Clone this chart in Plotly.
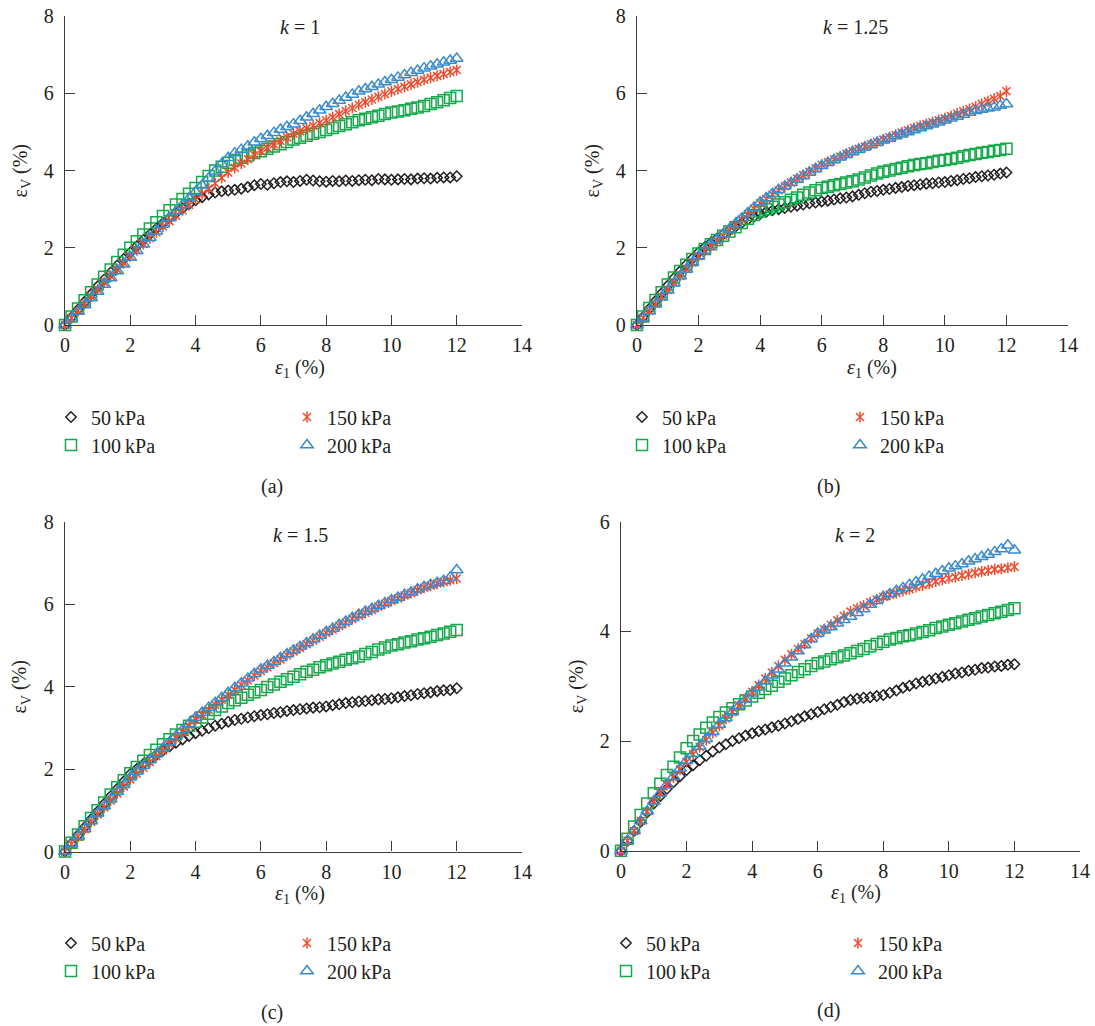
import plotly.graph_objects as go

# Axial strain (%) sampled every 0.2 %
STRAIN = [0.0, 0.2, 0.4, 0.6, 0.8, 1.0, 1.2, 1.4, 1.6, 1.8, 2.0, 2.2, 2.4, 2.6, 2.8,
          3.0, 3.2, 3.4, 3.6, 3.8, 4.0, 4.2, 4.4, 4.6, 4.8, 5.0, 5.2, 5.4, 5.6, 5.8,
          6.0, 6.2, 6.4, 6.6, 6.8, 7.0, 7.2, 7.4, 7.6, 7.8, 8.0, 8.2, 8.4, 8.6, 8.8,
          9.0, 9.2, 9.4, 9.6, 9.8, 10.0, 10.2, 10.4, 10.6, 10.8, 11.0, 11.2, 11.4, 11.6, 11.8, 12.0]

PRESSURES = ["50\u2009kPa", "100\u2009kPa", "150\u2009kPa", "200\u2009kPa"]
K_LABELS = ["1", "1.25", "1.5", "2"]
PANEL_TAGS = ["(a)", "(b)", "(c)", "(d)"]

# Volumetric strain (%) for k = 1
K1_50 = [0, 0.2, 0.4, 0.6, 0.8, 1.0, 1.18, 1.36, 1.54, 1.71, 1.88, 2.04, 2.2, 2.35, 2.5, 2.64, 2.77, 2.9, 3.02, 3.13,
         3.23, 3.31, 3.38, 3.43, 3.46, 3.48, 3.5, 3.53, 3.57, 3.62, 3.65, 3.63, 3.67, 3.7, 3.72, 3.7, 3.73, 3.76, 3.74, 3.72,
         3.71, 3.73, 3.72, 3.74, 3.73, 3.75, 3.76, 3.75, 3.78, 3.77, 3.76, 3.77, 3.78, 3.77, 3.79, 3.8, 3.79, 3.81, 3.82, 3.82, 3.85]
K1_100 = [0, 0.22, 0.43, 0.64, 0.85, 1.05, 1.25, 1.44, 1.63, 1.82, 2.0, 2.17, 2.34, 2.5, 2.66, 2.82, 2.97, 3.12, 3.26, 3.4,
          3.55, 3.7, 3.86, 4.0, 4.1, 4.2, 4.27, 4.33, 4.39, 4.45, 4.5, 4.56, 4.62, 4.68, 4.74, 4.8, 4.85, 4.9, 4.95, 5.0,
          5.05, 5.1, 5.15, 5.2, 5.25, 5.3, 5.34, 5.38, 5.42, 5.46, 5.5, 5.53, 5.56, 5.6, 5.63, 5.67, 5.72, 5.77, 5.82, 5.88, 5.93]
K1_150 = [0, 0.18, 0.37, 0.55, 0.74, 0.92, 1.1, 1.27, 1.44, 1.61, 1.78, 1.94, 2.1, 2.25, 2.4, 2.55, 2.69, 2.83, 2.97, 3.11,
          3.25, 3.39, 3.53, 3.67, 3.81, 3.95, 4.07, 4.18, 4.29, 4.4, 4.5, 4.59, 4.68, 4.77, 4.86, 4.95, 5.02, 5.09, 5.16, 5.23,
          5.3, 5.38, 5.46, 5.54, 5.62, 5.7, 5.77, 5.84, 5.91, 5.98, 6.05, 6.11, 6.17, 6.23, 6.29, 6.35, 6.4, 6.45, 6.5, 6.55, 6.6]
K1_200 = [0, 0.17, 0.35, 0.52, 0.7, 0.87, 1.05, 1.22, 1.4, 1.57, 1.75, 1.92, 2.09, 2.26, 2.43, 2.6, 2.77, 2.94, 3.11, 3.28,
          3.45, 3.62, 3.8, 3.98, 4.17, 4.33, 4.45, 4.54, 4.63, 4.73, 4.82, 4.9, 4.98, 5.06, 5.13, 5.2, 5.29, 5.38, 5.47, 5.56,
          5.65, 5.73, 5.81, 5.89, 5.97, 6.05, 6.11, 6.17, 6.23, 6.29, 6.35, 6.41, 6.47, 6.53, 6.59, 6.65, 6.7, 6.75, 6.8, 6.85, 6.9]

# Volumetric strain (%) for k = 1.25
K125_50 = [0, 0.21, 0.42, 0.62, 0.82, 1.02, 1.21, 1.39, 1.56, 1.72, 1.88, 2.01, 2.13, 2.24, 2.35, 2.45, 2.55, 2.64, 2.73, 2.81,
           2.88, 2.93, 2.97, 3.0, 3.03, 3.06, 3.09, 3.12, 3.15, 3.17, 3.2, 3.22, 3.25, 3.28, 3.3, 3.33, 3.37, 3.41, 3.45, 3.47,
           3.5, 3.52, 3.55, 3.57, 3.6, 3.62, 3.64, 3.66, 3.67, 3.69, 3.7, 3.73, 3.75, 3.78, 3.8, 3.83, 3.85, 3.87, 3.89, 3.92, 3.95]
K125_100 = [0, 0.22, 0.44, 0.65, 0.85, 1.05, 1.23, 1.4, 1.56, 1.71, 1.85, 1.97, 2.09, 2.2, 2.31, 2.42, 2.53, 2.64, 2.75, 2.85,
            2.94, 3.0, 3.06, 3.12, 3.18, 3.24, 3.3, 3.37, 3.43, 3.49, 3.55, 3.58, 3.62, 3.65, 3.69, 3.72, 3.77, 3.82, 3.87, 3.92,
            3.97, 4.0, 4.04, 4.07, 4.11, 4.14, 4.17, 4.19, 4.22, 4.25, 4.27, 4.3, 4.33, 4.37, 4.4, 4.43, 4.46, 4.48, 4.51, 4.53, 4.56]
K125_150 = [0, 0.18, 0.37, 0.55, 0.74, 0.92, 1.1, 1.28, 1.45, 1.62, 1.78, 1.92, 2.05, 2.18, 2.31, 2.45, 2.59, 2.73, 2.87, 3.01,
            3.15, 3.26, 3.37, 3.48, 3.59, 3.69, 3.79, 3.88, 3.97, 4.06, 4.15, 4.22, 4.29, 4.36, 4.43, 4.5, 4.56, 4.62, 4.68, 4.74,
            4.8, 4.86, 4.92, 4.98, 5.04, 5.1, 5.15, 5.2, 5.25, 5.3, 5.35, 5.41, 5.47, 5.53, 5.59, 5.65, 5.72, 5.79, 5.86, 5.93, 6.05]
K125_200 = [0, 0.18, 0.36, 0.54, 0.72, 0.9, 1.08, 1.26, 1.44, 1.61, 1.78, 1.93, 2.07, 2.21, 2.35, 2.48, 2.62, 2.76, 2.9, 3.04,
            3.18, 3.29, 3.4, 3.5, 3.59, 3.68, 3.77, 3.86, 3.95, 4.04, 4.12, 4.2, 4.27, 4.34, 4.41, 4.48, 4.54, 4.6, 4.66, 4.72,
            4.78, 4.83, 4.89, 4.94, 5.0, 5.05, 5.1, 5.15, 5.2, 5.25, 5.3, 5.35, 5.4, 5.45, 5.5, 5.55, 5.58, 5.61, 5.64, 5.68, 5.72]

# Volumetric strain (%) for k = 1.5
K15_50 = [0, 0.2, 0.4, 0.59, 0.78, 0.97, 1.16, 1.34, 1.52, 1.7, 1.88, 2.0, 2.12, 2.23, 2.34, 2.45, 2.55, 2.64, 2.72, 2.8,
          2.87, 2.93, 2.99, 3.05, 3.1, 3.15, 3.19, 3.22, 3.25, 3.28, 3.31, 3.33, 3.36, 3.38, 3.41, 3.43, 3.45, 3.47, 3.49, 3.5,
          3.52, 3.55, 3.57, 3.6, 3.62, 3.64, 3.65, 3.67, 3.69, 3.7, 3.72, 3.74, 3.77, 3.79, 3.82, 3.84, 3.86, 3.89, 3.91, 3.92, 3.96]
K15_100 = [0, 0.21, 0.41, 0.61, 0.81, 1.0, 1.19, 1.38, 1.56, 1.73, 1.9, 2.05, 2.2, 2.34, 2.47, 2.6, 2.72, 2.84, 2.95, 3.05,
           3.15, 3.25, 3.34, 3.43, 3.52, 3.6, 3.67, 3.73, 3.8, 3.86, 3.92, 3.99, 4.05, 4.12, 4.18, 4.24, 4.3, 4.36, 4.41, 4.47,
           4.52, 4.56, 4.6, 4.65, 4.69, 4.73, 4.79, 4.84, 4.9, 4.95, 5.0, 5.03, 5.07, 5.1, 5.14, 5.17, 5.21, 5.25, 5.29, 5.33, 5.37]
K15_150 = [0, 0.18, 0.36, 0.54, 0.72, 0.9, 1.07, 1.24, 1.41, 1.58, 1.75, 1.89, 2.03, 2.17, 2.31, 2.45, 2.6, 2.75, 2.9, 3.05,
           3.2, 3.32, 3.44, 3.56, 3.68, 3.8, 3.92, 4.04, 4.15, 4.27, 4.38, 4.47, 4.57, 4.66, 4.76, 4.85, 4.94, 5.03, 5.12, 5.21,
           5.3, 5.38, 5.47, 5.55, 5.64, 5.72, 5.79, 5.86, 5.94, 6.01, 6.08, 6.14, 6.21, 6.27, 6.34, 6.4, 6.45, 6.5, 6.54, 6.58, 6.62]
K15_200 = [0, 0.18, 0.37, 0.55, 0.74, 0.92, 1.1, 1.27, 1.45, 1.62, 1.8, 1.94, 2.08, 2.22, 2.36, 2.5, 2.65, 2.8, 2.95, 3.1,
           3.25, 3.37, 3.49, 3.61, 3.73, 3.85, 3.97, 4.08, 4.2, 4.31, 4.42, 4.51, 4.6, 4.7, 4.79, 4.88, 4.97, 5.06, 5.15, 5.24,
           5.33, 5.41, 5.5, 5.58, 5.67, 5.75, 5.82, 5.89, 5.96, 6.03, 6.1, 6.16, 6.23, 6.29, 6.36, 6.42, 6.47, 6.52, 6.57, 6.65, 6.83]

# Volumetric strain (%) for k = 2
K2_50 = [0, 0.18, 0.36, 0.53, 0.7, 0.86, 1.0, 1.13, 1.25, 1.36, 1.47, 1.56, 1.65, 1.73, 1.81, 1.88, 1.94, 2.0, 2.05, 2.1,
         2.14, 2.18, 2.21, 2.25, 2.28, 2.32, 2.36, 2.4, 2.45, 2.49, 2.53, 2.58, 2.62, 2.66, 2.71, 2.75, 2.77, 2.79, 2.8, 2.82,
         2.84, 2.88, 2.92, 2.97, 3.01, 3.05, 3.08, 3.11, 3.14, 3.17, 3.2, 3.23, 3.25, 3.28, 3.3, 3.33, 3.34, 3.36, 3.37, 3.39, 3.4]
K2_100 = [0, 0.22, 0.44, 0.65, 0.86, 1.05, 1.22, 1.38, 1.53, 1.7, 1.87, 2.0, 2.12, 2.24, 2.34, 2.44, 2.52, 2.6, 2.67, 2.74,
          2.81, 2.88, 2.95, 3.01, 3.08, 3.14, 3.2, 3.26, 3.31, 3.37, 3.42, 3.45, 3.49, 3.53, 3.56, 3.6, 3.64, 3.68, 3.73, 3.77,
          3.81, 3.85, 3.88, 3.91, 3.93, 3.96, 3.99, 4.02, 4.06, 4.09, 4.12, 4.15, 4.18, 4.21, 4.24, 4.27, 4.3, 4.33, 4.36, 4.39, 4.42]
K2_150 = [0, 0.18, 0.36, 0.54, 0.72, 0.9, 1.05, 1.2, 1.34, 1.48, 1.62, 1.76, 1.89, 2.02, 2.15, 2.28, 2.41, 2.53, 2.65, 2.78,
          2.9, 3.02, 3.14, 3.25, 3.37, 3.48, 3.58, 3.68, 3.77, 3.87, 3.96, 4.04, 4.12, 4.2, 4.28, 4.36, 4.42, 4.47, 4.53, 4.58,
          4.63, 4.67, 4.7, 4.74, 4.77, 4.81, 4.84, 4.87, 4.91, 4.94, 4.97, 4.99, 5.02, 5.04, 5.07, 5.09, 5.11, 5.13, 5.14, 5.16, 5.18]
K2_200 = [0, 0.18, 0.36, 0.54, 0.72, 0.9, 1.05, 1.2, 1.35, 1.5, 1.64, 1.77, 1.9, 2.04, 2.17, 2.3, 2.42, 2.53, 2.64, 2.76,
          2.87, 2.98, 3.09, 3.2, 3.31, 3.42, 3.53, 3.64, 3.75, 3.86, 3.96, 4.02, 4.08, 4.15, 4.21, 4.27, 4.34, 4.41, 4.49, 4.56,
          4.63, 4.68, 4.74, 4.79, 4.85, 4.9, 4.95, 5.0, 5.05, 5.1, 5.15, 5.19, 5.23, 5.28, 5.32, 5.36, 5.4, 5.45, 5.5, 5.57, 5.48]

PANEL_DATA = [
    [K1_50, K1_100, K1_150, K1_200],
    [K125_50, K125_100, K125_150, K125_200],
    [K15_50, K15_100, K15_150, K15_200],
    [K2_50, K2_100, K2_150, K2_200],
]
Y_MAX = [8, 8, 8, 6]

W, H = 1095, 1026
SERIF = "Liberation Serif, Times New Roman, DejaVu Serif, serif"
FS = 20
INK = "#231f20"
AXIS = "#3c3c3c"
COLORS = ["#231f20", "#14a94b", "#ef4a2c", "#3a8bcd"]

# panel frames in pixels: (x at 0, x at 14, y at 0, y at top)
FRAMES = [
    (65, 522, 325, 16),
    (637, 1068, 325, 16),
    (65, 522, 851.5, 521.7),
    (621, 1080, 850.7, 521.7),
]
# legend anchors: symbol centres of the two columns, two row centres
LEG = [
    ((71, 307), (417, 445)),
    ((642, 860), (417, 445)),
    ((71, 307), (943, 971)),
    ((626, 858), (943, 971)),
]
CAPTIONS = [(272, 487), (828, 487), (272, 1012), (828, 1010)]
TITLES = [(300, 27), (855, 27), (300, 535), (855, 535)]


def px(x):
    return x / W


def py(y):
    return 1 - y / H


fig = go.Figure()
layout = dict(
    width=W, height=H, margin=dict(l=0, r=0, t=0, b=0, autoexpand=False),
    paper_bgcolor="white", plot_bgcolor="white",
    font=dict(family=SERIF, color=INK, size=FS),
    annotations=[],
)

legend_count = 0


def new_legend(xc, yc):
    global legend_count
    legend_count += 1
    key = "legend" if legend_count == 1 else f"legend{legend_count}"
    layout[key] = dict(
        x=px(xc - 20), y=py(yc), xanchor="left", yanchor="middle",
        bgcolor="rgba(0,0,0,0)", borderwidth=0,
        font=dict(family=SERIF, size=FS, color=INK),
        tracegroupgap=0,
    )
    return key


for i in range(4):
    n = "" if i == 0 else str(i + 1)
    x0, x1, y0, y1 = FRAMES[i]
    xa, ya = f"x{n}", f"y{n}"
    axis_common = dict(
        showline=True, linecolor=AXIS, linewidth=1.4, mirror=False,
        ticks="inside", ticklen=10, tickwidth=1.4, tickcolor=AXIS,
        showgrid=False, zeroline=False, automargin=False,
        tickfont=dict(family=SERIF, size=FS, color=INK),
    )
    layout[f"xaxis{n}"] = dict(
        axis_common, domain=[px(x0), px(x1)], range=[0, 14],
        tickvals=list(range(0, 15, 2)), anchor=ya, ticklabelstandoff=2,
    )
    layout[f"yaxis{n}"] = dict(
        axis_common, domain=[py(y0), py(y1)], range=[0, Y_MAX[i]],
        tickvals=list(range(0, Y_MAX[i] + 1, 2)), anchor=xa, ticklabelstandoff=6,
    )

    cols, rows = LEG[i]
    leg_pos = [(cols[0], rows[0]), (cols[0], rows[1]), (cols[1], rows[0]), (cols[1], rows[1])]
    for j, series in enumerate(PANEL_DATA[i]):
        c = COLORS[j]
        lg = new_legend(*leg_pos[j])
        if j == 0:
            mk = dict(symbol="diamond-open", size=8, color=c, line=dict(color=c, width=1.5))
        elif j == 1:
            mk = dict(symbol="square-open", size=11, color=c, line=dict(color=c, width=1.5))
        elif j == 2:
            mk = dict(symbol="x-thin-open", size=8, color=c, line=dict(color=c, width=1.5))
        else:
            mk = dict(symbol="triangle-up-open", size=11, color=c, line=dict(color=c, width=1.5))
        fig.add_trace(go.Scatter(
            x=STRAIN, y=series, mode="markers", marker=mk, name=PRESSURES[j],
            xaxis=xa, yaxis=ya, legend=lg, cliponaxis=False, showlegend=True,
        ))
        if j == 2:
            # vertical stroke completing the six-armed asterisk marker
            lg2 = new_legend(*leg_pos[j])
            fig.add_trace(go.Scatter(
                x=STRAIN, y=series, mode="markers",
                marker=dict(symbol="line-ns-open", size=8, color=c, line=dict(color=c, width=1.5)),
                name=" ", xaxis=xa, yaxis=ya, legend=lg2, cliponaxis=False, showlegend=True,
            ))

    ym = (y0 + y1) / 2
    layout["annotations"] += [
        dict(text=f"<i>k</i> = {K_LABELS[i]}", x=px(TITLES[i][0]), y=py(TITLES[i][1]), xref="paper", yref="paper",
             showarrow=False, xanchor="center", yanchor="middle", font=dict(family=SERIF, size=FS, color=INK)),
        dict(text="<i>ε</i><sub>1</sub> (%)", x=px(x0 + 235), y=py(y0 + 43), xref="paper", yref="paper",
             showarrow=False, xanchor="center", yanchor="middle", font=dict(family=SERIF, size=FS, color=INK)),
        dict(text="ε<sub>V</sub> (%)", x=px(x0 - 44), y=py(ym), xref="paper", yref="paper", textangle=-90,
             showarrow=False, xanchor="center", yanchor="middle", font=dict(family=SERIF, size=FS, color=INK)),
        dict(text=PANEL_TAGS[i], x=px(CAPTIONS[i][0]), y=py(CAPTIONS[i][1]), xref="paper", yref="paper",
             showarrow=False, xanchor="center", yanchor="middle", font=dict(family=SERIF, size=FS, color=INK)),
    ]

fig.update_layout(**layout)
fig.write_html("out.html")
